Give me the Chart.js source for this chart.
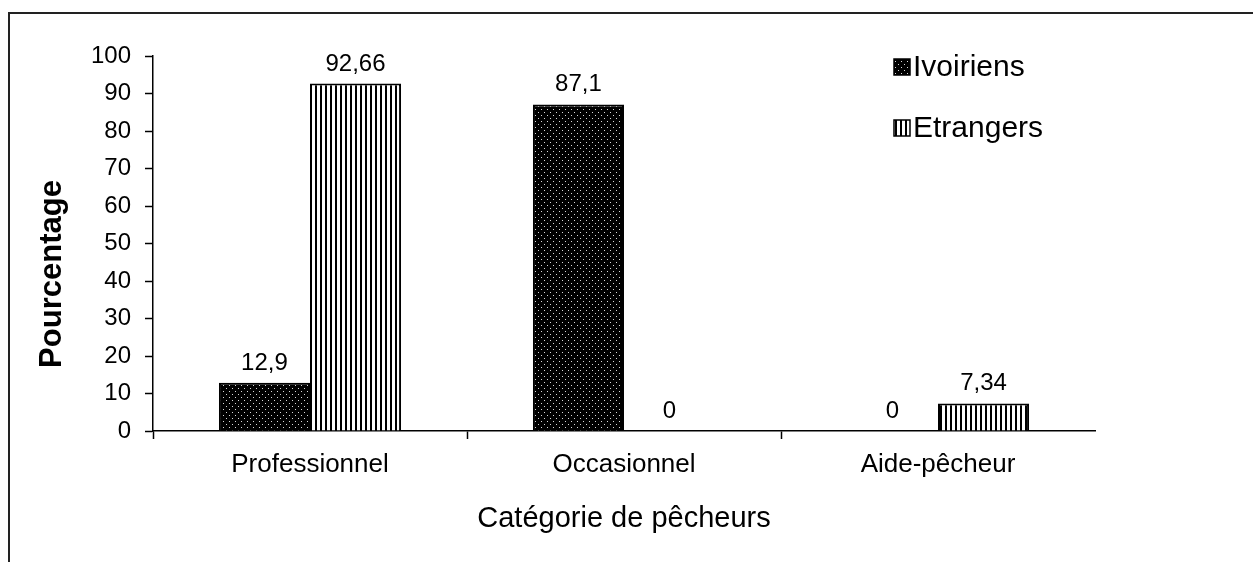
<!DOCTYPE html>
<html>
<head>
<meta charset="utf-8">
<title>Catégorie de pêcheurs</title>
<script src="https://cdn.jsdelivr.net/npm/chart.js@4.4.0/dist/chart.umd.min.js"></script>
<style>
  html, body { margin: 0; padding: 0; background: #fff; }
  #wrap { position: relative; width: 1253px; height: 562px; overflow: hidden; }
  #frame { position: absolute; left: 8px; top: 12px; right: -10px; bottom: -10px;
           border-top: 2px solid #222; border-left: 2px solid #222; }
  #chart { position: absolute; left: 0; top: 0; }
</style>
</head>
<body>
<div id="wrap">
  <div id="frame"></div>
  <canvas id="chart" width="1253" height="562"></canvas>
</div>
<script>
const categories = ['Professionnel', 'Occasionnel', 'Aide-pêcheur'];
const seriesNames = ['Ivoiriens', 'Etrangers'];
const ivoiriens = [12.9, 87.1, 0];
const etrangers = [92.66, 0, 7.34];
const yTicks = [0, 10, 20, 30, 40, 50, 60, 70, 80, 90, 100];

const FONT = "'Liberation Sans', Arial, sans-serif";

// black fill sprinkled with small light dots
function dotPattern() {
  const c = document.createElement('canvas');
  c.width = 6; c.height = 6;
  const g = c.getContext('2d');
  g.fillStyle = '#000';
  g.fillRect(0, 0, 6, 6);
  g.fillStyle = '#d8d8d8';
  g.fillRect(1, 1, 1, 1);
  g.fillRect(4, 4, 1, 1);
  return g.createPattern(c, 'repeat');
}

// thin vertical black stripes on white
function stripePattern() {
  const c = document.createElement('canvas');
  c.width = 5; c.height = 4;
  const g = c.getContext('2d');
  g.fillStyle = '#fff';
  g.fillRect(0, 0, 5, 4);
  g.fillStyle = '#000';
  g.fillRect(0, 0, 2, 4);
  return g.createPattern(c, 'repeat');
}

const fills = [dotPattern(), stripePattern()];

// value above every bar, decimal comma
const barLabels = {
  id: 'barLabels',
  afterDatasetsDraw(chart) {
    const ctx = chart.ctx;
    ctx.save();
    ctx.font = '24px ' + FONT;
    ctx.fillStyle = '#000';
    ctx.textAlign = 'center';
    ctx.textBaseline = 'alphabetic';
    chart.data.datasets.forEach((ds, i) => {
      chart.getDatasetMeta(i).data.forEach((bar, j) => {
        const txt = String(ds.data[j]).replace('.', ',');
        ctx.fillText(txt, bar.x, bar.y - 13);
      });
    });
    ctx.restore();
  }
};

// legend in the upper right corner + rotated y title
const extras = {
  id: 'extras',
  afterDraw(chart) {
    const ctx = chart.ctx;
    ctx.save();
    chart.data.datasets.forEach((ds, i) => {
      const y = 59 + i * 61;
      ctx.fillStyle = ds.backgroundColor;
      ctx.fillRect(894, y, 16, 16);
      ctx.strokeStyle = '#000';
      ctx.lineWidth = 1.5;
      ctx.strokeRect(894, y, 16, 16);
      ctx.fillStyle = '#000';
      ctx.font = '30px ' + FONT;
      ctx.textAlign = 'left';
      ctx.textBaseline = 'middle';
      ctx.fillText(ds.label, 913, y + 9);
    });

    ctx.translate(52, 274);
    ctx.rotate(-Math.PI / 2);
    ctx.font = 'bold 31px ' + FONT;
    ctx.textAlign = 'center';
    ctx.textBaseline = 'middle';
    ctx.fillStyle = '#000';
    ctx.fillText('Pourcentage', 0, 0);
    ctx.restore();
  }
};

new Chart(document.getElementById('chart'), {
  type: 'bar',
  data: {
    labels: categories,
    datasets: [
      { label: seriesNames[0], data: ivoiriens, backgroundColor: fills[0] },
      { label: seriesNames[1], data: etrangers, backgroundColor: fills[1] }
    ]
  },
  options: {
    responsive: false,
    animation: false,
    layout: { padding: { top: 56, right: 158, left: 0, bottom: 0 } },
    datasets: {
      bar: {
        categoryPercentage: 0.58,
        barPercentage: 1,
        borderColor: '#000',
        borderWidth: c => (c.raw ? 2 : 0),
        borderSkipped: 'bottom'
      }
    },
    plugins: {
      legend: { display: false },
      tooltip: { enabled: false }
    },
    scales: {
      x: {
        grid: {
          offset: true,
          drawOnChartArea: false,
          tickLength: 8,
          tickWidth: 1.5,
          // the closing grid line past the last label gets the scale context: leave it blank
          tickColor: c => (c.type === 'tick' ? '#000' : 'rgba(0,0,0,0)')
        },
        border: { color: '#000', width: 1.5 },
        ticks: { color: '#000', font: { family: FONT, size: 26 }, padding: 10, maxRotation: 0 },
        title: {
          display: true,
          text: 'Catégorie de pêcheurs',
          color: '#000',
          font: { family: FONT, size: 29 },
          padding: { top: 0, bottom: 26 }
        },
        afterFit: s => { s.height = 131; }
      },
      y: {
        min: yTicks[0],
        max: yTicks[yTicks.length - 1],
        afterBuildTicks: s => { s.ticks = yTicks.map(v => ({ value: v })); },
        grid: {
          drawOnChartArea: false,
          tickLength: 8,
          tickWidth: 1.5,
          tickColor: '#000'
        },
        border: { color: '#000', width: 1.5 },
        ticks: { color: '#000', font: { family: FONT, size: 24 }, padding: 14 },
        afterFit: s => { s.width = 153; }
      }
    }
  },
  plugins: [barLabels, extras]
});
</script>
</body>
</html>
